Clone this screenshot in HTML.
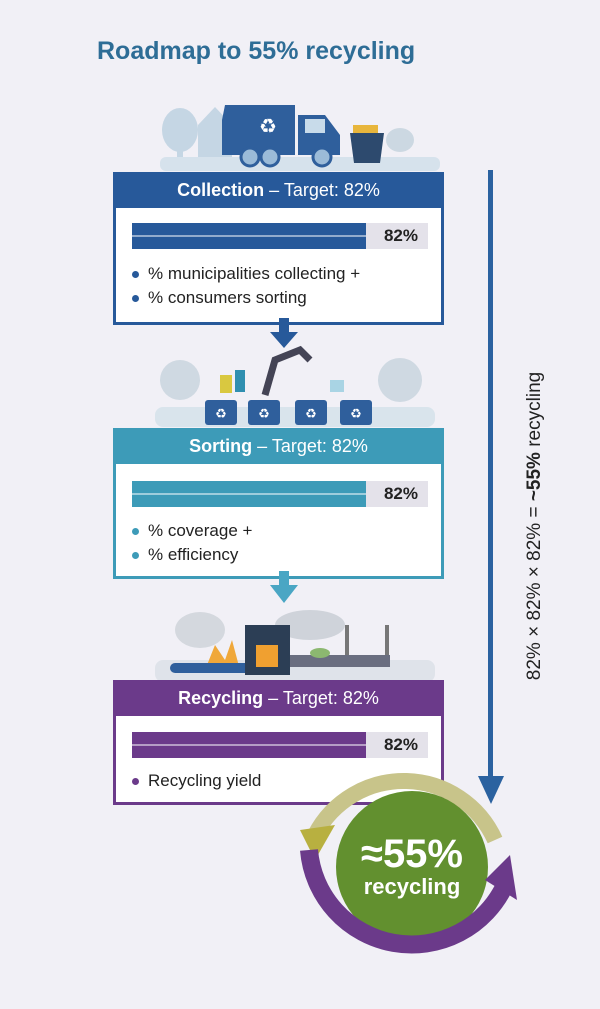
<!DOCTYPE html>
<html><head><meta charset="utf-8"><style>
body{margin:0;width:600px;height:1009px;background:#f1f0f6;font-family:"Liberation Sans",sans-serif;position:relative;overflow:hidden}
.a{position:absolute}
.hdr{position:absolute;left:113px;width:331px;height:36px;color:#fff;font-size:18px;text-align:center;line-height:36px}
.hdr b{font-weight:bold}
.body{position:absolute;left:113px;width:325px;background:#fff;border:3px solid;border-top:none}
.bar{position:absolute;left:16px;width:234px;height:26px}
.bar i{position:absolute;left:0;right:0;top:12px;height:2px;background:rgba(255,255,255,.5)}
.pct{position:absolute;left:250px;width:62px;height:26px;background:#e4e2ea;font-size:17px;font-weight:bold;color:#222;text-align:right;line-height:26px;padding-right:0}
.pct span{margin-right:10px}
.bul{position:absolute;left:16px;font-size:17px;color:#222}
.bul div{height:24px;line-height:24px}
.bul div:before{content:"";display:inline-block;width:7px;height:7px;border-radius:50%;background:var(--c);margin-right:9px;vertical-align:middle}
</style></head><body>
<div class="a" style="left:97px;top:37px;font-size:25px;color:#2e6d96;font-weight:bold">Roadmap to 55% recycling</div>

<svg class="a" style="left:150px;top:85px" width="290" height="90">
<ellipse cx="30" cy="45" rx="18" ry="22" fill="#c5d6e4"/><rect x="27" y="55" width="6" height="25" fill="#c5d6e4"/>
<path d="M48 40 L65 22 L82 40 V78 H48Z" fill="#c5d6e4"/>
<rect x="10" y="72" width="280" height="14" fill="#d6e2ec" rx="6"/>
<path d="M75 20 H145 V70 H72 V35Z" fill="#2f5f9c"/>
<path d="M148 30 H175 L190 50 V70 H148Z" fill="#2f5f9c"/>
<rect x="155" y="34" width="20" height="14" fill="#c8dbea"/>
<text x="118" y="48" font-size="20" fill="#fff" text-anchor="middle">♻</text>
<circle cx="100" cy="72" r="9" fill="#9bbbd8" stroke="#2f5f9c" stroke-width="3"/>
<circle cx="120" cy="72" r="9" fill="#9bbbd8" stroke="#2f5f9c" stroke-width="3"/>
<circle cx="172" cy="72" r="9" fill="#9bbbd8" stroke="#2f5f9c" stroke-width="3"/>
<rect x="203" y="40" width="25" height="8" fill="#e8b63c"/>
<path d="M200 48 H234 L230 78 H204Z" fill="#2d4a6e"/>
<ellipse cx="250" cy="55" rx="14" ry="12" fill="#ccd8e2"/>
</svg>

<div class="hdr" style="top:172px;background:#27599a"><b>Collection</b> – Target: 82%</div>
<div class="body" style="top:208px;height:114px;border-color:#27599a">
 <div class="bar" style="top:15px;background:#27599a"><i></i></div>
 <div class="pct" style="top:15px"><span>82%</span></div>
 <div class="bul" style="top:54px;--c:#27599a"><div>% municipalities collecting +</div><div>% consumers sorting</div></div>
</div>
<svg class="a" style="left:268px;top:318px" width="32" height="32"><rect x="11" y="0" width="10" height="14" fill="#27599a"/><path d="M2 14 H30 L16 30Z" fill="#27599a"/></svg>

<svg class="a" style="left:150px;top:345px" width="290" height="85">
<ellipse cx="30" cy="35" rx="20" ry="20" fill="#cfd9e2"/><ellipse cx="250" cy="35" rx="22" ry="22" fill="#cfd9e2"/>
<rect x="5" y="62" width="280" height="20" fill="#d9e4ec" rx="8"/>
<path d="M115 50 L125 15 L150 5 L160 15" stroke="#445" stroke-width="7" fill="none"/>
<rect x="85" y="25" width="10" height="22" fill="#2f8fb0"/><rect x="70" y="30" width="12" height="18" fill="#d9c840"/>
<rect x="180" y="35" width="14" height="12" fill="#a9d4e4"/>
<g fill="#2f5f9c"><rect x="55" y="55" width="32" height="25" rx="3"/><rect x="98" y="55" width="32" height="25" rx="3"/><rect x="145" y="55" width="32" height="25" rx="3"/><rect x="190" y="55" width="32" height="25" rx="3"/></g>
<g fill="#fff" font-size="13" text-anchor="middle"><text x="71" y="73">♻</text><text x="114" y="73">♻</text><text x="161" y="73">♻</text><text x="206" y="73">♻</text></g>
</svg>

<div class="hdr" style="top:428px;background:#3d9bb8"><b>Sorting</b> – Target: 82%</div>
<div class="body" style="top:464px;height:112px;border-color:#3d9bb8">
 <div class="bar" style="top:17px;background:#3d9bb8"><i></i></div>
 <div class="pct" style="top:17px"><span>82%</span></div>
 <div class="bul" style="top:55px;--c:#3d9bb8"><div>% coverage +</div><div>% efficiency</div></div>
</div>
<svg class="a" style="left:268px;top:571px" width="32" height="34"><rect x="11" y="0" width="10" height="14" fill="#4aa6c4"/><path d="M2 14 H30 L16 32Z" fill="#4aa6c4"/></svg>

<svg class="a" style="left:150px;top:605px" width="290" height="78">
<ellipse cx="50" cy="25" rx="25" ry="18" fill="#d4d8de"/><ellipse cx="160" cy="20" rx="35" ry="15" fill="#cfd3da"/>
<rect x="5" y="55" width="280" height="22" fill="#dfe3ea" rx="8"/>
<path d="M55 65 L65 40 L75 55 L82 35 L90 65Z" fill="#f0a83a"/>
<rect x="20" y="58" width="80" height="10" rx="5" fill="#2f5f9c"/>
<rect x="95" y="20" width="45" height="50" fill="#2c3e55"/><rect x="106" y="40" width="22" height="22" fill="#f0a030"/>
<rect x="140" y="50" width="100" height="12" fill="#6a6e80"/><rect x="195" y="20" width="4" height="30" fill="#777"/><rect x="235" y="20" width="4" height="30" fill="#777"/>
<ellipse cx="170" cy="48" rx="10" ry="5" fill="#8cb870"/>
</svg>

<div class="hdr" style="top:680px;background:#6b3a8a"><b>Recycling</b> – Target: 82%</div>
<div class="body" style="top:716px;height:86px;border-color:#6b3a8a">
 <div class="bar" style="top:16px;background:#6b3a8a"><i></i></div>
 <div class="pct" style="top:16px"><span>82%</span></div>
 <div class="bul" style="top:53px;--c:#6b3a8a"><div>Recycling yield</div></div>
</div>

<svg class="a" style="left:476px;top:170px" width="30" height="636"><rect x="12" y="0" width="5" height="610" fill="#2b62a0"/><path d="M2 606 H28 L15 634Z" fill="#2b62a0"/></svg>
<div class="a" style="left:535px;top:526px;width:360px;margin-left:-180px;margin-top:-11px;height:22px;line-height:22px;font-size:19px;color:#222;text-align:center;transform:rotate(-90deg);white-space:nowrap">82% × 82% × 82% = <b>~55%</b> recycling</div>

<svg class="a" style="left:295px;top:770px" width="240" height="200">
<path d="M20 65 A100 100 0 0 1 200 70" stroke="#c8c48a" stroke-width="16" fill="none"/>
<path d="M5 60 L40 55 L20 90Z" fill="#b8b040"/>
<circle cx="117" cy="97" r="76" fill="#62902f"/>
<path d="M14 80 A103 103 0 0 0 210 115" stroke="#6b3a8a" stroke-width="18" fill="none"/>
<path d="M190 110 L222 130 L215 85Z" fill="#6b3a8a"/>
<text x="117" y="97" font-size="40" font-weight="bold" fill="#fff" text-anchor="middle">≈55%</text>
<text x="117" y="124" font-size="22" font-weight="bold" fill="#fff" text-anchor="middle">recycling</text>
</svg>
</body></html>
